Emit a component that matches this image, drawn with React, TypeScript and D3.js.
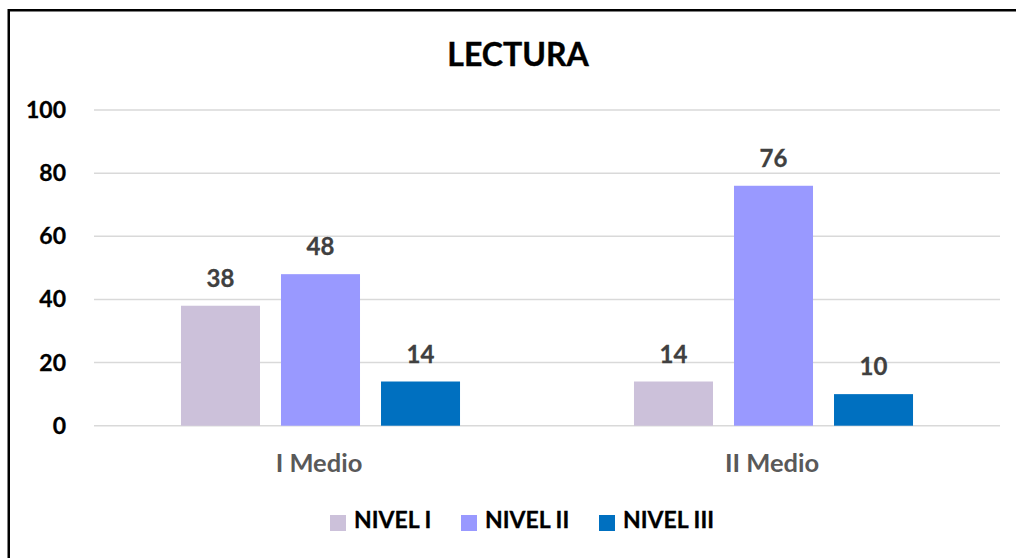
import React from "react";
import * as d3 from "d3";

const title = "LECTURA";
const categories = ["I Medio", "II Medio"];
const seriesNames = ["NIVEL I", "NIVEL II", "NIVEL III"];
const seriesColors = ["#CCC1DA", "#9999FF", "#0070C0"];
const nivelI = [38, 14];
const nivelII = [48, 76];
const nivelIII = [14, 10];
const yTicks = [0, 20, 40, 60, 80, 100];

const W = 1016;
const H = 558;
const FONT = "Lato, 'Open Sans', sans-serif";

export default function App() {
  const series = [nivelI, nivelII, nivelIII];
  const plotLeft = 94;
  const plotRight = 1000;
  const y = d3.scaleLinear().domain([0, 100]).range([425.7, 110]);
  const x0 = d3.scaleBand<string>().domain(categories).range([plotLeft, plotRight]).padding(0);
  const groupW = x0.bandwidth() * 0.616;
  const x1 = d3
    .scaleBand<string>()
    .domain(seriesNames)
    .range([0, groupW])
    .paddingInner(0.21)
    .paddingOuter(0);

  const legendX = [330, 461, 599];

  return (
    <svg
      width={W}
      height={H}
      style={{ position: "absolute", left: 0, top: 0, background: "#fff" }}
    >
      <rect x={0} y={0} width={W} height={H} fill="#fff" />
      <rect x={8.75} y={10.25} width={W + 40} height={H + 40} fill="none" stroke="#000" strokeWidth={2.5} />
      <text x={518} y={66} textAnchor="middle" fontFamily={FONT} fontWeight="bold" fontSize={32} fill="#000" stroke="#000" strokeWidth={0.4}>
        {title}
      </text>
      {yTicks.map((t) => (
        <g key={t}>
          <line x1={plotLeft} x2={plotRight} y1={y(t)} y2={y(t)} stroke="#D9D9D9" strokeWidth={1.5} />
          <text
            x={66}
            y={y(t) + 8}
            textAnchor="end"
            fontFamily={FONT}
            fontWeight="bold"
            fontSize={23}
            fill="#000"
            stroke="#000"
            strokeWidth={0.3}
          >
            {t}
          </text>
        </g>
      ))}
      {categories.map((c, ci) => {
        const gx = (x0(c) as number) + (x0.bandwidth() - groupW) / 2;
        return (
          <g key={c}>
            {seriesNames.map((s, si) => {
              const v = series[si][ci];
              const bx = gx + (x1(s) as number);
              return (
                <g key={s}>
                  <rect
                    x={bx}
                    y={y(v)}
                    width={x1.bandwidth()}
                    height={y(0) - y(v)}
                    fill={seriesColors[si]}
                  />
                  <text
                    x={bx + x1.bandwidth() / 2}
                    y={y(v) - 19}
                    textAnchor="middle"
                    fontFamily={FONT}
                    fontWeight="bold"
                    fontSize={24}
                    fill="#404040"
                    stroke="#404040"
                    strokeWidth={0.3}
                  >
                    {v}
                  </text>
                </g>
              );
            })}
            <text
              x={(x0(c) as number) + x0.bandwidth() / 2 - 1.5}
              y={472}
              textAnchor="middle"
              fontFamily={FONT}
              fontWeight="bold"
              fontSize={25.5}
              fill="#595959"
            >
              {c}
            </text>
          </g>
        );
      })}
      {seriesNames.map((s, si) => (
        <g key={s}>
          <rect x={legendX[si]} y={515} width={16} height={16} fill={seriesColors[si]} />
          <text
            x={legendX[si] + 24}
            y={528}
            fontFamily={FONT}
            fontWeight="bold"
            fontSize={23}
            fill="#000"
            stroke="#000"
            strokeWidth={0.3}
          >
            {s}
          </text>
        </g>
      ))}
    </svg>
  );
}
